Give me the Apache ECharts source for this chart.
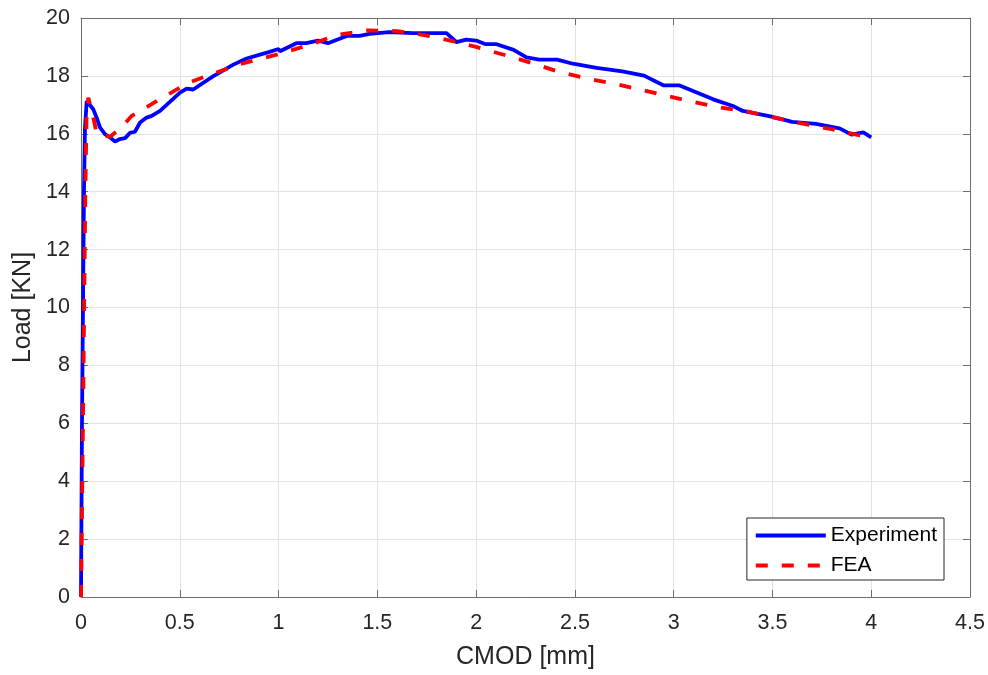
<!DOCTYPE html>
<html>
<head>
<meta charset="utf-8">
<script src="https://cdn.jsdelivr.net/npm/echarts@6/dist/echarts.min.js"></script>
<style>
  html, body { margin: 0; padding: 0; background: #fff; }
  #chart { width: 988px; height: 675px; }
</style>
</head>
<body>
<div id="chart"></div>
<script>
// Load vs. crack mouth opening displacement: test record and finite element result
const expCmod = [0, 0.005, 0.01, 0.015, 0.02, 0.029, 0.062, 0.079, 0.096, 0.121, 0.147, 0.172, 0.197, 0.223, 0.248, 0.273, 0.299, 0.332, 0.358, 0.40, 0.501, 0.535, 0.568, 0.67, 0.771, 0.838, 0.95, 1.0, 1.007, 1.09, 1.14, 1.2, 1.25, 1.345, 1.41, 1.46, 1.56, 1.68, 1.85, 1.90, 1.95, 2.0, 2.045, 2.10, 2.19, 2.255, 2.32, 2.41, 2.49, 2.61, 2.74, 2.85, 2.95, 3.03, 3.12, 3.2, 3.30, 3.35, 3.49, 3.6, 3.72, 3.84, 3.9, 3.96, 4.0];
const expLoad = [0, 6, 10, 14, 16.2, 17.13, 16.85, 16.56, 16.22, 15.99, 15.88, 15.73, 15.82, 15.85, 16.03, 16.07, 16.39, 16.56, 16.62, 16.79, 17.42, 17.56, 17.53, 17.99, 18.39, 18.6, 18.82, 18.93, 18.85, 19.13, 19.13, 19.22, 19.13, 19.38, 19.38, 19.45, 19.51, 19.48, 19.48, 19.17, 19.25, 19.22, 19.1, 19.1, 18.9, 18.64, 18.56, 18.56, 18.42, 18.28, 18.16, 18.01, 17.67, 17.67, 17.42, 17.19, 16.96, 16.79, 16.6, 16.41, 16.34, 16.19, 15.97, 16.05, 15.88];

const feaCmod = [0, 0.01, 0.016, 0.022, 0.028, 0.037, 0.058, 0.08, 0.147, 0.206, 0.257, 0.315, 0.425, 0.543, 0.678, 0.796, 1.0, 1.16, 1.3, 1.45, 1.6, 1.73, 1.87, 2.0, 2.14, 2.28, 2.41, 2.55, 2.69, 2.83, 2.97, 3.1, 3.24, 3.38, 3.52, 3.66, 3.8, 3.93, 4.0];
const feaLoad = [0, 6, 10, 14, 16.5, 17.25, 16.7, 15.99, 15.9, 16.23, 16.62, 16.85, 17.3, 17.76, 18.1, 18.39, 18.75, 19.08, 19.42, 19.57, 19.55, 19.42, 19.22, 19.0, 18.73, 18.45, 18.16, 17.93, 17.74, 17.53, 17.3, 17.1, 16.9, 16.76, 16.54, 16.34, 16.16, 15.96, 15.88];

const xTicks = { min: 0, max: 4.5, step: 0.5 };
const yTicks = { min: 0, max: 20, step: 2 };

const FONT = "'Liberation Sans', Arial, Helvetica, sans-serif";
const TEXT = '#262626';
const FRAME = '#6e6e6e';
const GRIDLINE = '#e3e3e3';
const LINE_W = 3.8;

const pairs = (xs, ys) => xs.map((x, i) => [x, ys[i]]);

// Box-style axes: ticks point inward on all four sides
const tickAxisBase = {
  axisLine: { show: true, onZero: false, lineStyle: { color: FRAME, width: 1 } },
  axisTick: { show: true, inside: true, length: 7, lineStyle: { color: FRAME } },
};

const chart = echarts.init(document.getElementById('chart'));
chart.setOption({
  animation: false,
  backgroundColor: '#fff',
  textStyle: { fontFamily: FONT, color: TEXT },
  grid: { left: 81, right: 18, top: 18, bottom: 73, show: false },
  legend: {
    right: 44, bottom: 95,
    orient: 'vertical',
    itemWidth: 70, itemHeight: 14, itemGap: 9,
    padding: [7, 7, 4, 7],
    borderColor: TEXT, borderWidth: 1,
    backgroundColor: '#fff',
    itemStyle: { opacity: 0 },
    lineStyle: { width: LINE_W },
    textStyle: { fontFamily: FONT, fontSize: 21, color: '#000' },
    data: ['Experiment', 'FEA']
  },
  xAxis: [
    Object.assign({}, tickAxisBase, {
      type: 'value', min: xTicks.min, max: xTicks.max, interval: xTicks.step,
      name: 'CMOD [mm]', nameLocation: 'middle', nameGap: 48,
      nameTextStyle: { fontFamily: FONT, fontSize: 25, color: TEXT },
      axisLabel: { fontFamily: FONT, fontSize: 21.5, color: TEXT, margin: 15 },
      splitLine: { show: true, lineStyle: { color: GRIDLINE, width: 1 } }
    }),
    Object.assign({}, tickAxisBase, {
      type: 'value', position: 'top', min: xTicks.min, max: xTicks.max, interval: xTicks.step,
      axisLabel: { show: false }, splitLine: { show: false }
    })
  ],
  yAxis: [
    Object.assign({}, tickAxisBase, {
      type: 'value', min: yTicks.min, max: yTicks.max, interval: yTicks.step,
      name: 'Load [KN]', nameLocation: 'middle', nameGap: 44,
      nameTextStyle: { fontFamily: FONT, fontSize: 25, color: TEXT },
      axisLabel: { fontFamily: FONT, fontSize: 21.5, color: TEXT, margin: 11 },
      splitLine: { show: true, lineStyle: { color: GRIDLINE, width: 1 } }
    }),
    Object.assign({}, tickAxisBase, {
      type: 'value', position: 'right', min: yTicks.min, max: yTicks.max, interval: yTicks.step,
      axisLabel: { show: false }, splitLine: { show: false }
    })
  ],
  series: [
    {
      name: 'Experiment', type: 'line', symbol: 'none', z: 2,
      data: pairs(expCmod, expLoad),
      lineStyle: { color: '#0000ff', width: LINE_W },
      itemStyle: { color: '#0000ff' }
    },
    {
      name: 'FEA', type: 'line', symbol: 'none', z: 3,
      data: pairs(feaCmod, feaLoad),
      lineStyle: { color: '#ff0000', width: LINE_W, type: [12, 14] },
      itemStyle: { color: '#ff0000' }
    }
  ]
});
</script>
</body>
</html>
